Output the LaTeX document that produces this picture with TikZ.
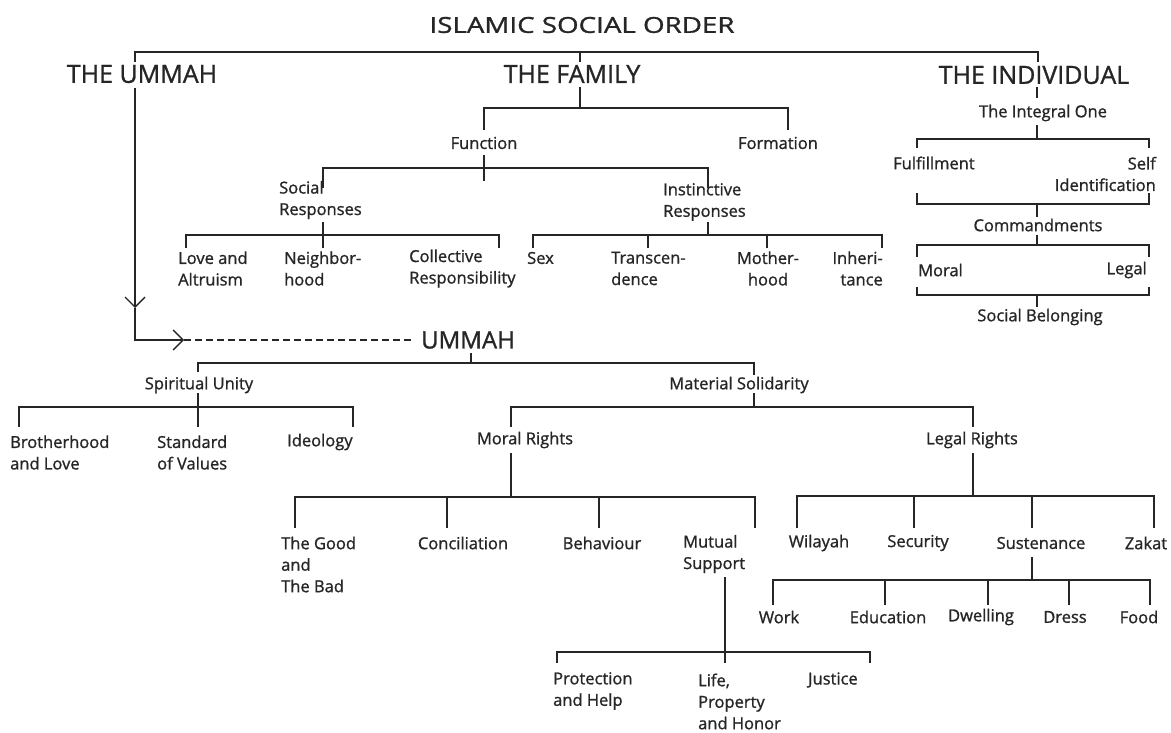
\documentclass[tikz,border=0pt]{standalone}
\usepackage{fontspec}
\usepackage{graphicx}
\setmainfont{Open Sans}[BoldFont={Open Sans},BoldFeatures={FakeBold=1.1}]
\usetikzlibrary{arrows.meta}
\definecolor{ink}{HTML}{262626}

% one parent with its stem, bus and drops to the children
% #1 parent name, #2 stem x, #3 stem top y, #4 bus y, #5 drop bottom y, #6 list child/x
\newcommand\treebranch[6]{%
  \coordinate (#1-out) at (#2,#3);
  \coordinate (#1-bus) at (#2,#4);
  \draw[link] (#1-out) -- (#1-bus);
  \foreach \kid/\kx in {#6} {
    \coordinate (\kid-in) at (\kx,#5);
    \draw[link] (\kid-in) |- (#1-bus);
  }}

\begin{document}
\begin{tikzpicture}[x=1pt,y=-1pt,
  every node/.style={inner sep=0pt,text=ink},
  lbl/.style={font=\fontsize{16.5}{21.5}\selectfont\bfseries,align=left},
  head/.style={font=\fontsize{25}{30}\selectfont\bfseries},
  link/.style={draw=ink,line width=1.4pt},
  barb/.style={-{Straight Barb[length=10pt,width=20pt,line width=1.4pt]}}]

\fill[white] (0,0) rectangle (1171,733);
\useasboundingbox (0,0) rectangle (1171,733);

% ---------- headings ----------
\node[font=\fontsize{22}{26}\selectfont\bfseries] (title) at (582,25) {\scalebox{1.26}[1]{ISLAMIC SOCIAL ORDER}};
\node[head] (ummahT) at (142,74) {THE UMMAH};
\node[head] (familyT) at (572,74) {THE FAMILY};
\node[head] (indivT) at (1034,75) {THE INDIVIDUAL};

\coordinate (order-bus) at (580,52);
\coordinate (ummahT-in) at (135,62);
\coordinate (familyT-in) at (580,62);
\coordinate (indivT-in) at (1038,62);
\draw[link] (ummahT-in) |- (order-bus) -| (indivT-in);
\draw[link] (familyT-in) -- (order-bus);

% ---------- the family ----------
\node[lbl] (function) at (484,143) {Function};
\node[lbl] (formation) at (778,143) {Formation};
\node[lbl,anchor=west] (social) at (279,200) {Social\\Responses};
\node[lbl,anchor=west] (instinct) at (663,202) {Instinctive\\Responses};
\node[lbl,anchor=west] (love) at (178,268.5) {Love and\\Altruism};
\node[lbl,anchor=west] (neighbor) at (284,268.5) {Neighbor-\\hood};
\node[lbl,anchor=west] (collective) at (409,268.5) {Collective\\Responsibility};
\node[lbl,anchor=west] (sex) at (527,258) {Sex};
\node[lbl,anchor=west] (transcend) at (611,268.5) {Transcen-\\dence};
\node[lbl,align=center] (mother) at (768,268.5) {Mother-\\hood};
\node[lbl,align=right,anchor=east] (inherit) at (883,268.5) {Inheri-\\tance};

\treebranch{familyT}{580}{87}{108}{130}{function/484,formation/788}
\treebranch{function}{484}{155}{168}{188}{social/323,instinct/708}
\coordinate (function-tail) at (484,181);
\draw[link] (function-bus) -- (function-tail);
\treebranch{social}{323}{222}{235}{248}{love/186,neighbor/323,collective/499}
\treebranch{instinct}{708}{222}{235}{248}{sex/533,transcend/648,mother/767,inherit/882}

% ---------- the individual ----------
\node[lbl] (integral) at (1043,113) {The Integral One};
\node[lbl,anchor=west] (fulfil) at (893,163) {Fulfillment};
\node[lbl,align=right,anchor=east] (self) at (1156,174) {Self\\Identification};
\node[lbl] (command) at (1038,225) {Commandments};
\node[lbl,anchor=west] (moral) at (918,270) {Moral};
\node[lbl,anchor=east] (legal) at (1147,270) {Legal};
\node[lbl] (belong) at (1040,317) {Social Belonging};

\treebranch{indivT}{1037}{87}{98}{98}{integral/1037}
\treebranch{integral}{1037}{125}{139}{148}{fulfil/917,self/1149}
\coordinate (fulfil-out) at (917,193);
\coordinate (self-out) at (1149,193);
\coordinate (command-bus) at (1037,204);
\coordinate (command-in) at (1037,217);
\draw[link] (fulfil-out) |- (command-bus);
\draw[link] (self-out) |- (command-bus);
\draw[link] (command-bus) -- (command-in);
\treebranch{command}{1037}{235}{245}{257}{moral/917,legal/1149}
\coordinate (moral-out) at (917,287);
\coordinate (legal-out) at (1149,287);
\coordinate (belong-bus) at (1037,295);
\coordinate (belong-in) at (1037,307);
\draw[link] (moral-out) |- (belong-bus);
\draw[link] (legal-out) |- (belong-bus);
\draw[link] (belong-bus) -- (belong-in);

% ---------- the ummah ----------
\node[font=\fontsize{24}{28}\selectfont\bfseries] (ummah) at (468,340) {UMMAH};
\coordinate (ummahT-out) at (135,88);
\coordinate (ummah-down) at (135,308);
\coordinate (ummah-right) at (184,340);
\draw[link,barb] (ummahT-out) -- (ummah-down);
\draw[link,barb] (ummah-down) |- (ummah-right);
\draw[link,dash pattern=on 7pt off 4pt,shorten >=8pt] (ummah-right) -- (ummah.west);

\node[lbl] (spirit) at (199,385) {Spiritual Unity};
\node[lbl] (material) at (739,385) {Material Solidarity};
\node[lbl,anchor=west] (brother) at (10,452.5) {Brotherhood\\and Love};
\node[lbl,anchor=west] (standard) at (157,452.5) {Standard\\of Values};
\node[lbl,anchor=west] (ideology) at (287,442) {Ideology};
\node[lbl] (moralR) at (525,440) {Moral Rights};
\node[lbl] (legalR) at (972,440) {Legal Rights};
\node[lbl,anchor=west] (good) at (281,564.5) {The Good\\and\\The Bad};
\node[lbl] (concil) at (463,543) {Conciliation};
\node[lbl] (behav) at (602,543) {Behaviour};
\node[lbl,anchor=west] (mutual) at (683,554) {Mutual\\Support};
\node[lbl,anchor=west] (protect) at (553,691) {Protection\\and Help};
\node[lbl,anchor=west] (life) at (698,701.5) {Life,\\Property\\and Honor};
\node[lbl,anchor=west] (justice) at (808,680) {Justice};
\node[lbl] (wilayah) at (819,543) {Wilayah};
\node[lbl] (security) at (918,543) {Security};
\node[lbl] (susten) at (1041,543) {Sustenance};
\node[lbl] (zakat) at (1146,543) {Zakat};
\node[lbl] (work) at (779,617) {Work};
\node[lbl] (edu) at (888,617) {Education};
\node[lbl] (dwell) at (981,617) {Dwelling};
\node[lbl] (dress) at (1065,617) {Dress};
\node[lbl] (food) at (1139,617) {Food};

\treebranch{ummah}{471}{353}{363}{372}{spirit/198}
\coordinate (material-in) at (754,375);
\draw[link] (material-in) |- (ummah-bus);
\treebranch{spirit}{198}{393}{407}{427}{brother/19,standard/198,ideology/353}
\treebranch{material}{754}{393}{407}{427}{moralR/511,legalR/973}
\treebranch{moralR}{511}{453}{497}{528}{good/295,concil/447,behav/599,mutual/755}
\treebranch{mutual}{725}{577}{652}{663}{protect/557,life/725,justice/870}
\treebranch{legalR}{973}{453}{496}{528}{wilayah/797,security/914,susten/1032,zakat/1154}
\treebranch{susten}{1032}{557}{580}{605}{work/773,edu/885,dwell/988,dress/1069,food/1150}

\end{tikzpicture}
\end{document}
